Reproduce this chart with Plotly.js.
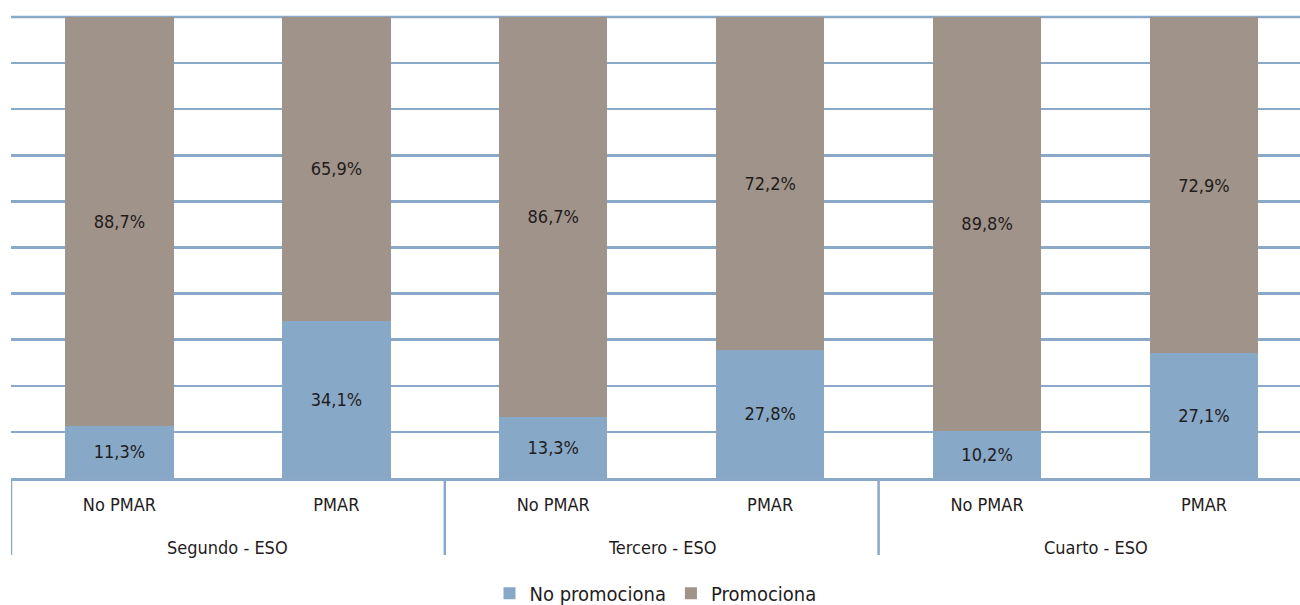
<!DOCTYPE html>
<html>
<head>
<meta charset="utf-8">
<script src="https://cdn.plot.ly/plotly-3.0.1.min.js"></script>
<style>html,body{margin:0;padding:0;background:#fff;}#chart{width:1300px;height:605px;}</style>
</head>
<body>
<div id="chart"></div>
<script>
const groups = ["Segundo - ESO", "Tercero - ESO", "Cuarto - ESO"];
const subLabels = ["No PMAR", "PMAR", "No PMAR", "PMAR", "No PMAR", "PMAR"];
const noPromociona = [11.3, 34.1, 13.3, 27.8, 10.2, 27.1];
const promociona = [88.7, 65.9, 86.7, 72.2, 89.8, 72.9];
const seriesNames = ["No promociona", "Promociona"];
const colors = ["#87a8c6", "#a09389"];

const FONT = "DejaVu Sans Condensed, Liberation Sans Narrow, Arial Narrow, sans-serif";
const TXT = "#1f1c1d";
const GRID = "#8aa9c9";
const xs = subLabels.map((_, i) => i);
const perGroup = subLabels.length / groups.length;

const mk = (vals, name, color) => ({
  type: "bar", x: xs, y: vals, name: name,
  marker: {color: color},
  texttemplate: "%{y:.1f}%", textposition: "inside", insidetextanchor: "middle",
  textfont: {family: FONT, size: 18, color: TXT},
  hoverinfo: "skip"
});

const data = [mk(noPromociona, seriesNames[0], colors[0]), mk(promociona, seriesNames[1], colors[1])];

const annotations = groups.map((g, k) => ({
  x: k * perGroup + (perGroup - 1) / 2, xref: "x", y: 0, yref: "paper",
  yanchor: "middle", yshift: -69, text: g, showarrow: false,
  font: {family: FONT, size: 18, color: TXT}
}));

const shapes = groups.map((g, k) => ({
  type: "line", xref: "x", yref: "paper",
  x0: k * perGroup - 0.5, x1: k * perGroup - 0.5, y0: 0, y1: -77 / 461,
  line: {color: GRID, width: 2.5}
}));
shapes.push({type: "line", xref: "paper", yref: "paper", x0: 0, x1: 1, y0: 1, y1: 1,
  layer: "below", line: {color: GRID, width: 2.5}});

const layout = {
  width: 1300, height: 605,
  margin: {l: 11, r: 0, t: 17, b: 127, autoexpand: false},
  barmode: "stack", bargap: 0.5,
  separators: ",.",
  paper_bgcolor: "#fff", plot_bgcolor: "#fff",
  showlegend: true,
  legend: {orientation: "h", x: 0.5, xanchor: "center", y: -0.25, yanchor: "middle",
    font: {family: FONT, size: 20, color: TXT}, traceorder: "normal"},
  xaxis: {range: [-0.5, -0.5 + 1289 / 216.9], tickvals: xs, ticktext: subLabels,
    showgrid: false, zeroline: false, showline: true, linecolor: GRID, linewidth: 2.5,
    ticks: "", ticklabelstandoff: 9, automargin: false,
    tickfont: {family: FONT, size: 18, color: TXT}},
  yaxis: {range: [0, 100], dtick: 10, showticklabels: false, showgrid: true,
    gridcolor: GRID, gridwidth: 2.5, zeroline: false, showline: false, ticks: "", automargin: false},
  annotations: annotations,
  shapes: shapes
};

Plotly.newPlot("chart", data, layout, {displayModeBar: false, staticPlot: true});
</script>
</body>
</html>
